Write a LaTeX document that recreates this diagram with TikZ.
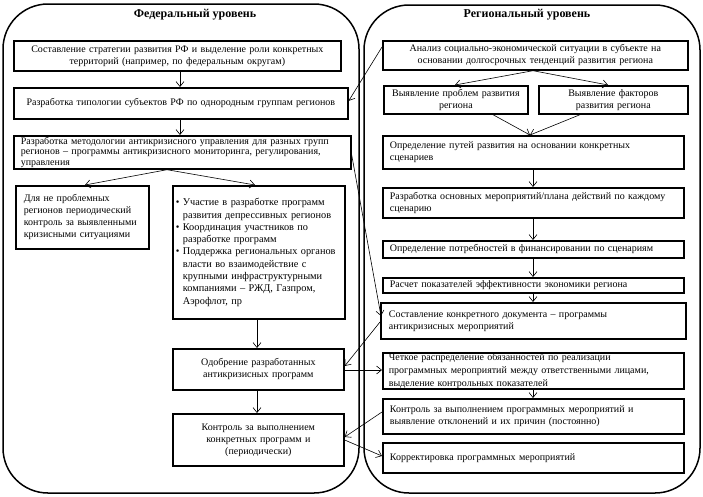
\documentclass[tikz,border=0pt]{standalone}
\usepackage{fontspec}
\setmainfont{Liberation Serif}
\usetikzlibrary{arrows.meta,calc}
\begin{document}
\begin{tikzpicture}[x=1pt,y=-1pt,
  panel/.style={draw, line width=1.5pt, rounded corners=45pt},
  box/.style={draw, line width=1.7pt, inner xsep=7pt, inner ysep=0pt, anchor=north west, font=\fontsize{10}{12}\selectfont},
  conn/.style={line width=0.6pt, -{Straight Barb[length=5pt,width=8pt]}},
  ttl/.style={font=\bfseries\fontsize{12}{14}\selectfont}
]
\useasboundingbox (0,0) rectangle (703,496);
\draw[panel] (3,4) rectangle (359,493);
\draw[panel] (364,5) rectangle (700,493);
\node[ttl] (t1) at (195,15) {Федеральный уровень};
\node[ttl] (t2) at (527,15) {Региональный уровень};

% left column
\node[box, text width=313pt, minimum height=30pt, align=center] (l1) at (13,40)
  {Составление стратегии развития РФ и выделение роли конкретных\\территорий (например, по федеральным округам)};
\node[box, text width=320pt, minimum height=31pt, align=center] (l2) at (13,87)
  {Разработка типологии субъектов РФ по однородным группам регионов};
\node[box, text width=323pt, minimum height=33pt, align=left, font=\fontsize{10}{10.5}\selectfont] (l3) at (13,135)
  {Разработка методологии антикризисного управления для разных групп\\регионов – программы антикризисного мониторинга, регулирования,\\управления};
\node[box, text width=117pt, minimum height=63pt, align=left, inner xsep=8pt] (l4) at (15,185)
  {Для не проблемных\\регионов периодический\\контроль за выявленными\\кризисными ситуациями};
\node[box, text width=166pt, minimum height=133pt, align=left, inner xsep=3pt, font=\fontsize{10.3}{12.3}\selectfont] (l5) at (172,185)
  {\makebox[7pt][l]{•}Участие в разработке программ\\
   \hspace*{7pt}развития депрессивных регионов\\
   \makebox[7pt][l]{•}Координация участников по\\
   \hspace*{7pt}разработке программ\\
   \makebox[7pt][l]{•}Поддержка региональных органов\\
   \hspace*{7pt}власти во взаимодействие с\\
   \hspace*{7pt}крупными инфраструктурными\\
   \hspace*{7pt}компаниями – РЖД, Газпром,\\
   \hspace*{7pt}Аэрофлот, пр};
\node[box, text width=157pt, minimum height=41pt, align=center] (l6) at (172,348)
  {Одобрение разработанных\\антикризисных программ};
\node[box, text width=157pt, minimum height=52pt, align=center] (l7) at (172,413)
  {Контроль за выполнением\\конкретных программ и\\(периодически)};

% right column
\node[box, text width=291pt, minimum height=29pt, align=center] (r1) at (382,40)
  {Анализ социально-экономической ситуации в субъекте на\\основании долгосрочных тенденций развития региона};
\node[box, text width=130pt, minimum height=28pt, align=center] (r2a) at (383,85)
  {Выявление проблем развития\\региона};
\node[box, text width=135pt, minimum height=28pt, align=center] (r2b) at (538,85)
  {Выявление факторов\\развития региона};
\node[box, text width=287pt, minimum height=33pt, align=left] (r3) at (382,135)
  {Определение путей развития на основании конкретных\\сценариев};
\node[box, text width=287pt, minimum height=30pt, align=left] (r4) at (382,187)
  {Разработка основных мероприятий/плана действий по каждому\\сценарию};
\node[box, text width=287pt, minimum height=17pt, align=left] (r5) at (382,240)
  {Определение потребностей в финансировании по сценариям};
\node[box, text width=287pt, minimum height=15pt, align=left] (r6) at (382,277)
  {Расчет показателей эффективности экономики региона};
\node[box, text width=289pt, minimum height=36pt, align=left, inner xsep=8pt] (r7) at (380,302)
  {Составление конкретного документа – программы\\антикризисных мероприятий};
\node[box, text width=289pt, minimum height=36pt, align=left, inner xsep=6pt, font=\fontsize{10}{12.8}\selectfont] (r8) at (382,352)
  {Четкое распределение обязанностей по реализации\\программных мероприятий между ответственными лицами,\\выделение контрольных показателей};
\node[box, text width=287pt, minimum height=35pt, align=left] (r9) at (382,398)
  {Контроль за выполнением программных мероприятий и\\выявление отклонений и их причин (постоянно)};
\node[box, text width=287pt, minimum height=30pt, align=left] (r10) at (382,442)
  {Корректировка программных мероприятий};

% left arrows
\draw[conn] ($(l1.south west)+(167,0)$) coordinate (p1) -- (p1 |- l2.north);
\draw[conn] ($(l2.south west)+(167,0)$) coordinate (p2) -- (p2 |- l3.north);
\draw[conn] ($(l3.south west)+(154,0)$) -- ($(l4.north west)+(70,0)$);
\draw[conn] ($(l3.south west)+(154,0)$) -- ($(l5.north west)+(83,0)$);
\draw[conn] ($(l5.south west)+(85,0)$) coordinate (p3) -- (p3 |- l6.north);
\draw[conn] ($(l6.south west)+(85,0)$) coordinate (p4) -- (p4 |- l7.north);

% right arrows
\draw[conn] ($(r1.south west)+(151,0)$) -- ($(r2a.north west)+(72,0)$);
\draw[conn] ($(r1.south west)+(151,0)$) -- ($(r2b.north west)+(70,0)$);
\draw[conn] ($(r2a.south west)+(110,0)$) -- ($(r3.north west)+(148,0)$);
\draw[conn] ($(r2b.south west)+(42,0)$) -- ($(r3.north west)+(148,0)$);
\draw[conn] ($(r3.south west)+(151,0)$) coordinate (q1) -- (q1 |- r4.north);
\draw[conn] ($(r4.south west)+(151,0)$) coordinate (q2) -- (q2 |- r5.north);
\draw[conn] ($(r5.south west)+(151,0)$) coordinate (q3) -- (q3 |- r6.north);
\draw[conn] ($(r6.south west)+(151,0)$) coordinate (q4) -- (q4 |- r7.north);
\draw[conn] ($(r8.south west)+(151,0)$) coordinate (q5) -- (q5 |- r9.north);

% cross connectors
\draw[conn] ($(r1.north west)+(0,7)$) -- ($(l2.east)+(0,-2.5)$);
\draw[conn] ($(l3.north east)+(0,20)$) -- ($(r7.north west)+(1,14)$);
\draw[conn] ($(r7.north west)+(0,20)$) -- ($(l6.north east)+(0,18)$);
\draw[conn] ($(l6.north east)+(0,22)$) -- ($(r8.north west)+(0,18)$);
\draw[conn] ($(r9.north west)+(0,14)$) -- ($(l7.north east)+(0,24)$);
\draw[conn] ($(l7.north east)+(0,27)$) -- ($(r10.north west)+(0,14)$);
\end{tikzpicture}
\end{document}
